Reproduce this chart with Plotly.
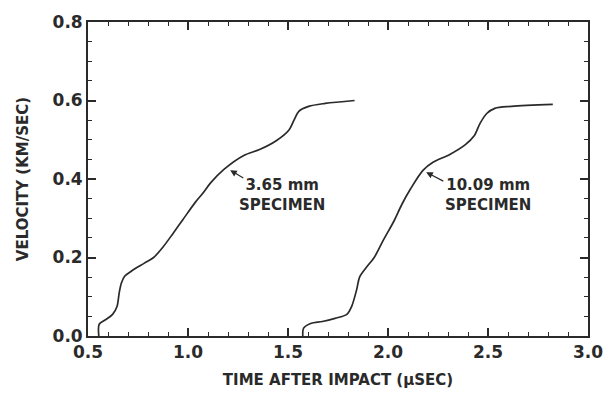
import plotly.graph_objects as go

# 3.65 mm specimen
t1 = [0.554, 0.556, 0.583, 0.623, 0.645, 0.656, 0.667, 0.683, 0.716, 0.78, 0.828, 0.877,
      0.926, 0.975, 1.04, 1.073, 1.113, 1.181, 1.279, 1.358, 1.441, 1.505, 1.53, 1.554,
      1.603, 1.686, 1.833]
v1 = [0.0, 0.03, 0.04, 0.055, 0.075, 0.11, 0.135, 0.152, 0.165, 0.185, 0.2, 0.228,
      0.262, 0.297, 0.343, 0.363, 0.39, 0.425, 0.46, 0.475, 0.4975, 0.525, 0.55, 0.5725,
      0.585, 0.5925, 0.6]

# 10.09 mm specimen
t2 = [1.574, 1.578, 1.613, 1.672, 1.735, 1.794, 1.818, 1.843, 1.858, 1.892, 1.931, 1.98,
      2.03, 2.069, 2.113, 2.176, 2.225, 2.309, 2.387, 2.431, 2.461, 2.495, 2.534,
      2.618, 2.824]
v2 = [0.0, 0.02, 0.032, 0.037, 0.045, 0.055, 0.075, 0.1175, 0.15, 0.175, 0.2, 0.2475,
      0.293, 0.335, 0.375, 0.4225, 0.4425, 0.4625, 0.4875, 0.51, 0.5425, 0.5675, 0.58,
      0.585, 0.59]

labels = ["3.65 mm<br>SPECIMEN", "10.09 mm<br>SPECIMEN"]
label_pos = [(1.47, 0.36), (2.5, 0.36)]
arrow_head = [(1.211, 0.4225), (2.191, 0.4175)]
arrow_tail = [(1.284, 0.40), (2.284, 0.3925)]

x_ticks = [0.5, 1.0, 1.5, 2.0, 2.5, 3.0]
y_ticks = [0.0, 0.2, 0.4, 0.6, 0.8]

ink = "#2a2a2a"
font_family = "DejaVu Sans, Arial, sans-serif"

fig = go.Figure()
for t, v in [(t1, v1), (t2, v2)]:
    fig.add_trace(go.Scatter(x=t, y=v, mode="lines",
                             line=dict(color=ink, width=1.7, shape="spline", smoothing=0.9),
                             showlegend=False, hoverinfo="skip"))

for lab, (lx, ly), (hx, hy), (tx, ty) in zip(labels, label_pos, arrow_head, arrow_tail):
    fig.add_annotation(x=lx, y=ly, text="<b>" + lab + "</b>", showarrow=False,
                       font=dict(family=font_family, size=15, color=ink), align="center")
    fig.add_annotation(x=hx, y=hy, ax=tx, ay=ty, axref="x", ayref="y", text="",
                       showarrow=True, arrowhead=2, arrowsize=1.1, arrowwidth=1.2,
                       arrowcolor=ink)

axis_common = dict(showgrid=False, zeroline=False, showline=True, linecolor=ink,
                   linewidth=1.8, mirror="allticks", ticks="inside", ticklen=8,
                   tickwidth=1.5, tickcolor=ink,
                   tickfont=dict(family=font_family, size=17, color=ink))

fig.update_xaxes(range=[0.5, 3.0], tickvals=x_ticks,
                 ticktext=[f"<b>{v:.1f}</b>" for v in x_ticks],
                 minor=dict(dtick=0.1, tick0=0.5, ticks="inside", ticklen=4,
                            tickwidth=1.3, tickcolor=ink),
                 title=dict(text="<b>TIME AFTER IMPACT (\u03bcSEC)</b>",
                            font=dict(family=font_family, size=15, color=ink), standoff=13),
                 **axis_common)
fig.update_yaxes(range=[0.0, 0.8], tickvals=y_ticks,
                 ticktext=[f"<b>{v:.1f}</b>" for v in y_ticks],
                 minor=dict(dtick=0.05, tick0=0.0, ticks="inside", ticklen=4,
                            tickwidth=1.3, tickcolor=ink),
                 title=dict(text="<b>VELOCITY (KM/SEC)</b>",
                            font=dict(family=font_family, size=15, color=ink), standoff=20),
                 **axis_common)

fig.update_layout(width=615, height=398, margin=dict(l=88, r=16, t=17, b=61),
                  paper_bgcolor="white", plot_bgcolor="white")

fig.write_html("out.html")
